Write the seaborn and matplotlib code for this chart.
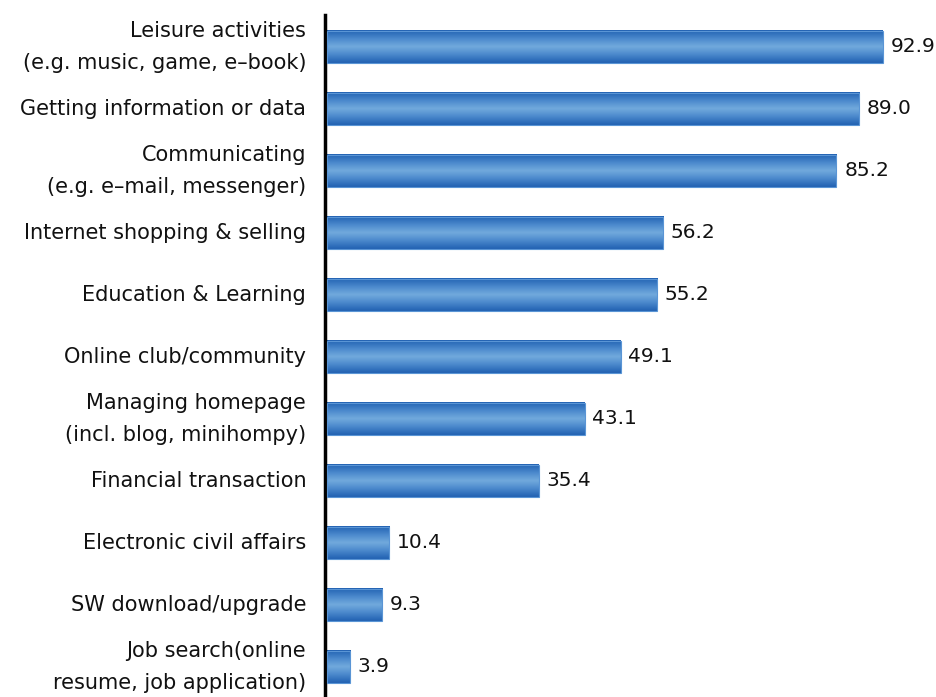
import numpy as np
import pandas as pd
import matplotlib
matplotlib.use("Agg")
import matplotlib.pyplot as plt
import seaborn as sns
from matplotlib.colors import LinearSegmentedColormap

categories = [
    "Leisure activities\n(e.g. music, game, e–book)",
    "Getting information or data",
    "Communicating\n(e.g. e–mail, messenger)",
    "Internet shopping & selling",
    "Education & Learning",
    "Online club/community",
    "Managing homepage\n(incl. blog, minihompy)",
    "Financial transaction",
    "Electronic civil affairs",
    "SW download/upgrade",
    "Job search(online\nresume, job application)",
]
values = [92.9, 89.0, 85.2, 56.2, 55.2, 49.1, 43.1, 35.4, 10.4, 9.3, 3.9]
value_labels = ["92.9", "89.0", "85.2", "56.2", "55.2", "49.1", "43.1", "35.4", "10.4", "9.3", "3.9"]

sns.set_theme(style="white")
plt.rcParams["font.family"] = ["DejaVu Sans"]

df = pd.DataFrame({"category": categories, "value": values})

fig = plt.figure(figsize=(9.37, 6.97), dpi=100)
ax = fig.add_axes([325 / 937, 0, 1 - 325 / 937, 682 / 697])

sns.barplot(data=df, x="value", y="category", orient="h", color="#3a78c0",
            width=0.52, ax=ax, saturation=1)

# cylinder-style shading across each bar
shade = LinearSegmentedColormap.from_list(
    "tube", ["#2262b2", "#4a88cc", "#72aadd", "#4a88cc", "#2262b2"])
grad = np.linspace(0, 1, 64).reshape(-1, 1)
for patch in list(ax.patches):
    x0, y0 = patch.get_x(), patch.get_y()
    w, h = patch.get_width(), patch.get_height()
    patch.set_alpha(0)
    ax.imshow(grad, cmap=shade, aspect="auto", interpolation="bicubic",
              extent=(x0, x0 + w, y0 + h, y0), zorder=2)
    ax.add_patch(plt.Rectangle((x0, y0), w, h, fill=False,
                               edgecolor="#5a95d5", lw=0.8, zorder=3))

for i, (v, lab) in enumerate(zip(values, value_labels)):
    ax.text(v + 1.3, i, lab, va="center", ha="left", fontsize=14.5, color="#111111")

ax.set_xlim(-0.3, 102)
ax.set_ylim(10.484, -0.516)
ax.set_xlabel("")
ax.set_ylabel("")
ax.set_xticks([])
ax.tick_params(axis="y", length=0, pad=13.5, labelsize=15, labelcolor="#111111")

for s in ["top", "right", "bottom"]:
    ax.spines[s].set_visible(False)
ax.spines["left"].set_linewidth(2.5)
ax.spines["left"].set_color("black")
ax.spines["left"].set_position(("data", -0.3))

# category labels need wider line spacing than tick labels keep
fig.canvas.draw()
for t in ax.get_yticklabels():
    t.set_linespacing(1.75)
    t.set_verticalalignment("center")

fig.savefig("out.png", dpi=100)
